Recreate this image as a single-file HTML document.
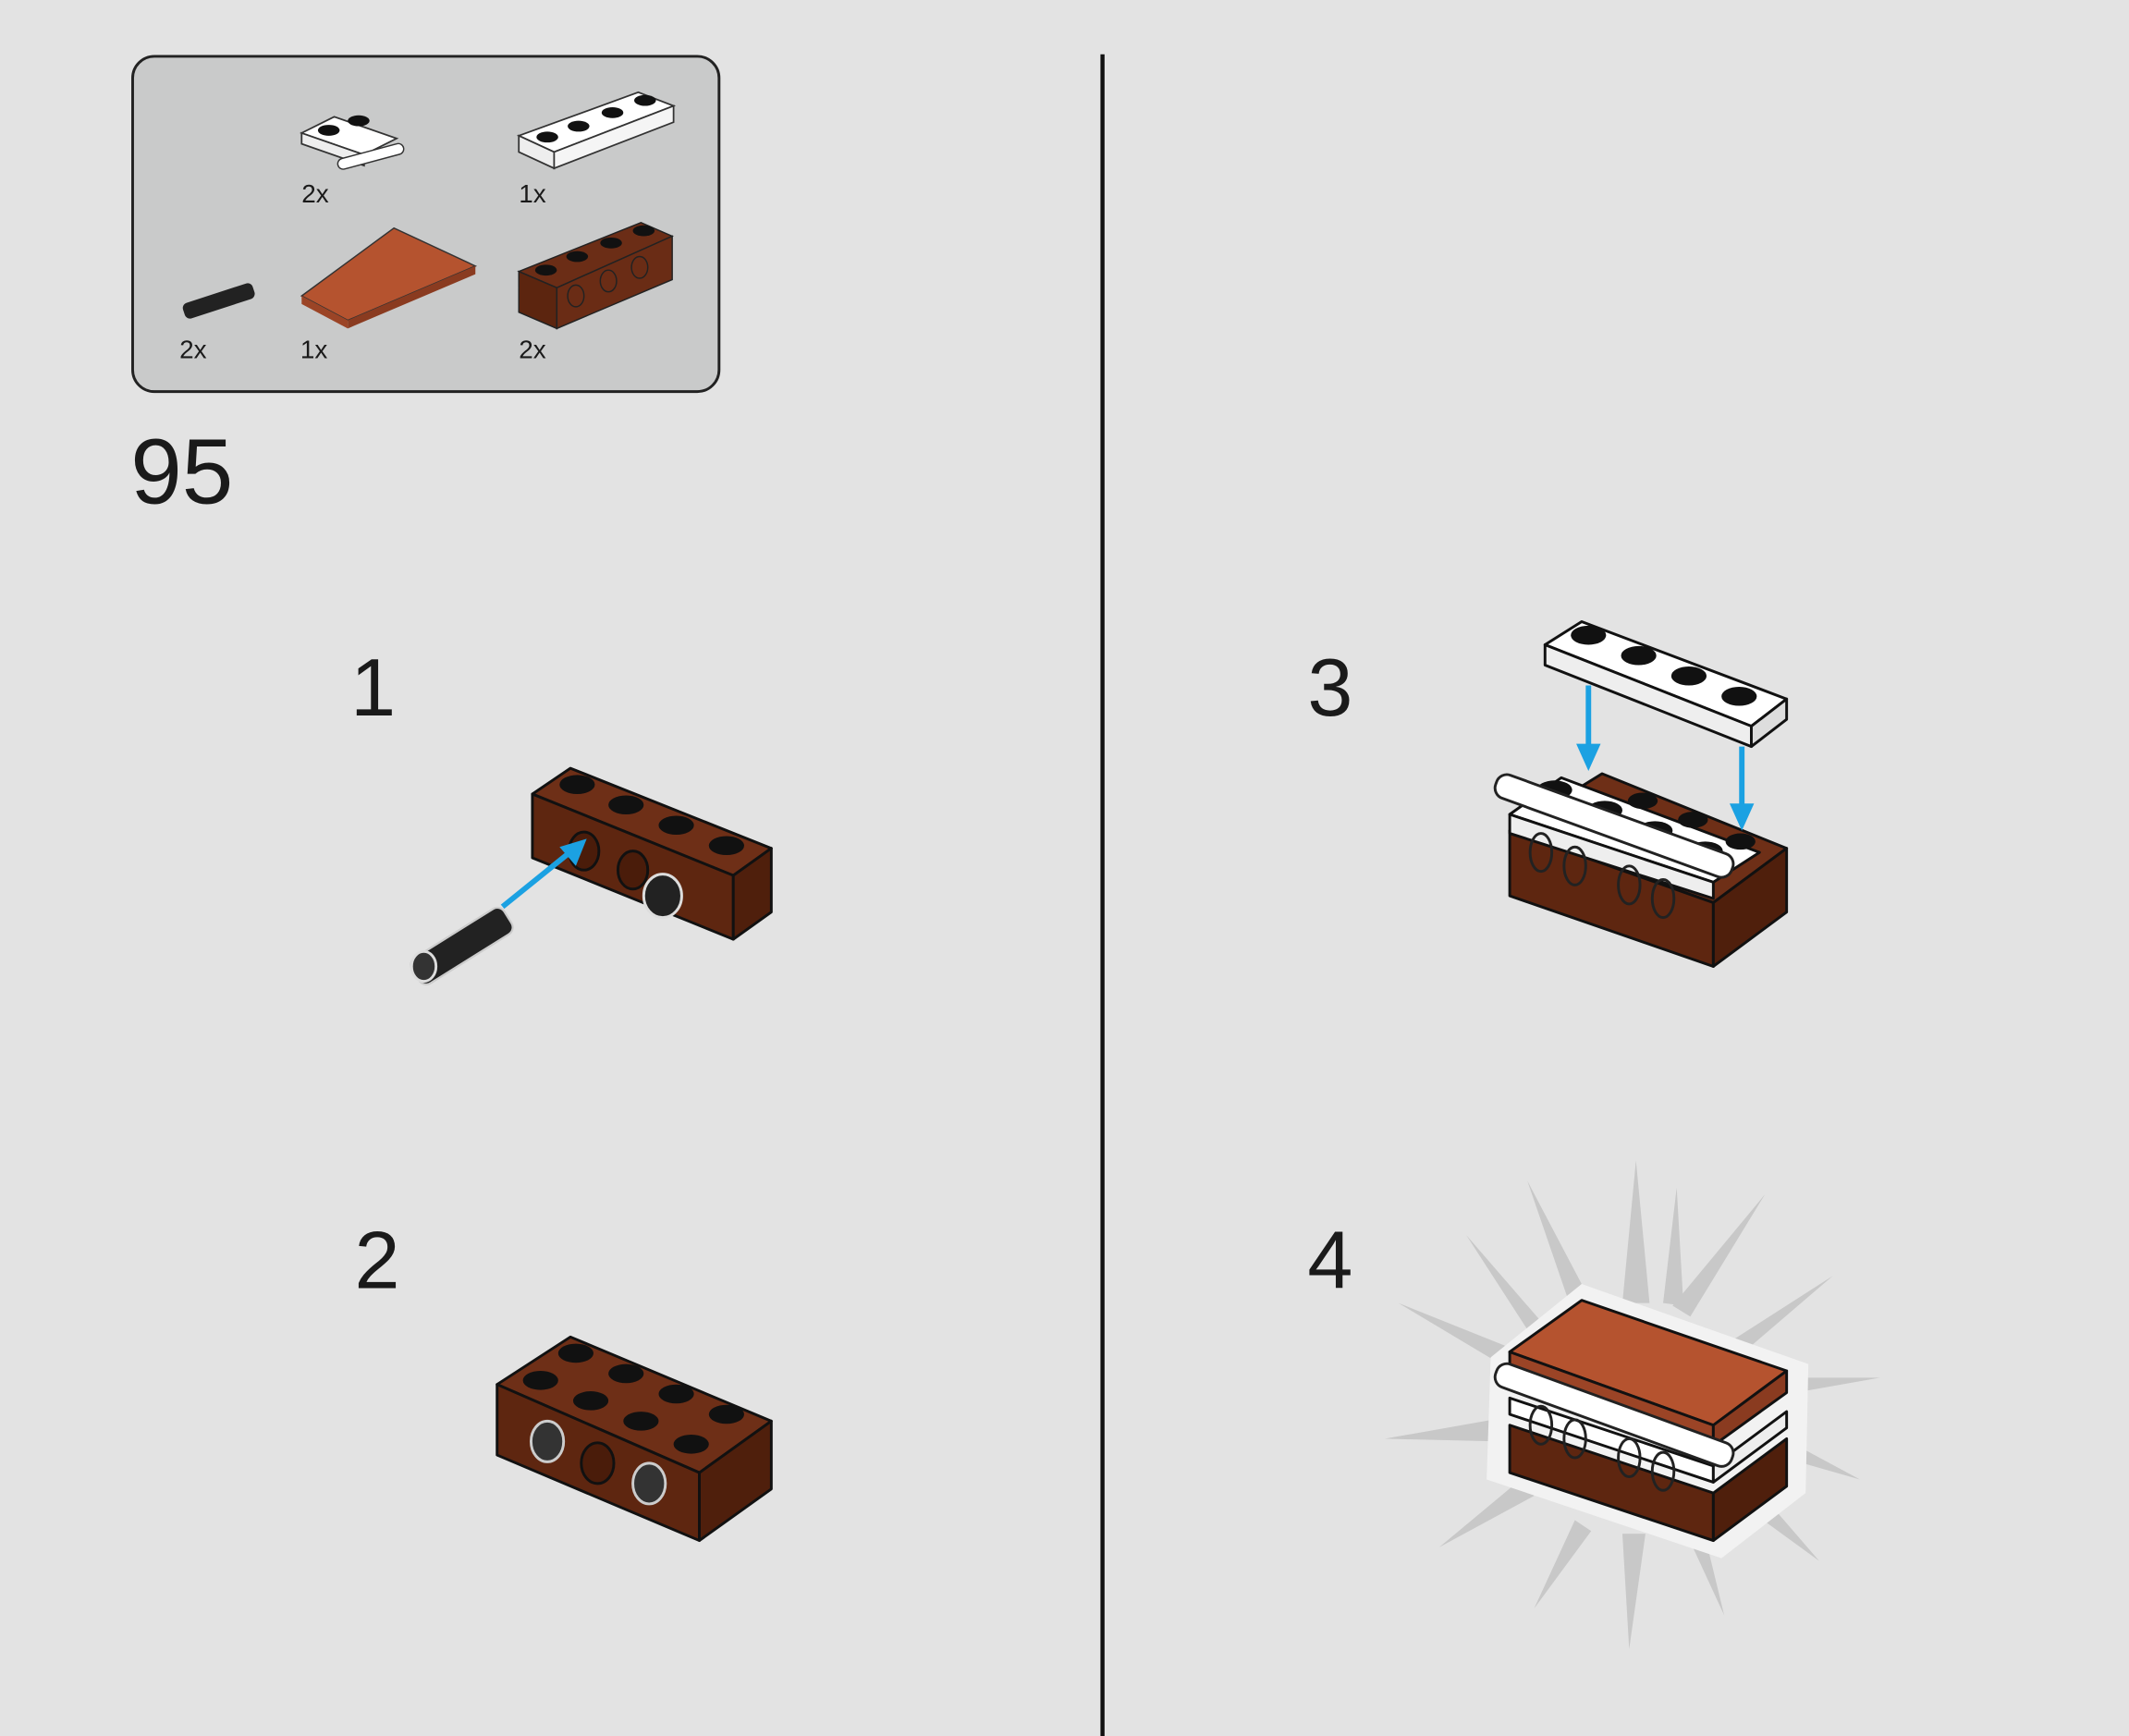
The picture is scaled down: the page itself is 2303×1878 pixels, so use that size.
<!DOCTYPE html>
<html><head><meta charset="utf-8"><style>
html,body{margin:0;padding:0;background:#e3e3e3;}
svg{display:block;}
text{font-family:"Liberation Sans",sans-serif;fill:#1a1a1a;}
</style></head><body>
<svg width="2303" height="1878" viewBox="0 0 1568 1279" xmlns="http://www.w3.org/2000/svg">
<rect width="1568" height="1279" fill="#e3e3e3"/>
<!-- parts box -->
<rect x="97.5" y="41.5" width="432" height="247" rx="16" fill="#c9caca" stroke="#222" stroke-width="2"/>
<!-- small hinge plate -->
<polygon points="222,98 246,86 292,102 268,114" fill="#fff" stroke="#333" stroke-width="1.2"/>
<polygon points="222,98 268,114 268,122 222,106" fill="#eee" stroke="#333" stroke-width="1.2"/>
<ellipse cx="242" cy="96" rx="8" ry="4" fill="#111"/><ellipse cx="264" cy="89" rx="8" ry="4" fill="#111"/>
<rect x="248" y="112" width="50" height="8" rx="4" fill="#fff" stroke="#333" transform="rotate(-15 270 116)"/>
<text x="222" y="149" font-size="19">2x</text>
<!-- 1x4 plate -->
<polygon points="382,100 470,68 496,78 408,112" fill="#fff" stroke="#333" stroke-width="1.2"/>
<polygon points="382,100 408,112 408,124 382,112" fill="#eee" stroke="#333" stroke-width="1.2"/>
<polygon points="408,112 496,78 496,90 408,124" fill="#f5f5f5" stroke="#333" stroke-width="1.2"/>
<ellipse cx="403" cy="101" rx="8" ry="4" fill="#111"/><ellipse cx="426" cy="93" rx="8" ry="4" fill="#111"/><ellipse cx="451" cy="83" rx="8" ry="4" fill="#111"/><ellipse cx="475" cy="74" rx="8" ry="4" fill="#111"/>
<text x="382" y="149" font-size="19">1x</text>
<!-- pin -->
<rect x="134" y="216" width="54" height="12" rx="4" fill="#222" transform="rotate(-18 160 222)"/>
<text x="132" y="264" font-size="19">2x</text>
<!-- tile -->
<polygon points="222,218 290,168 350,196 256,236" fill="#b5532f" stroke="#333" stroke-width="1"/>
<polygon points="222,218 256,236 256,242 222,224" fill="#9b4426"/>
<polygon points="256,236 350,196 350,202 256,242" fill="#8a3b20"/>
<text x="221" y="264" font-size="19">1x</text>
<!-- technic brick -->
<polygon points="382,200 472,164 495,174 410,212" fill="#6b2d16" stroke="#222"/>
<polygon points="382,200 410,212 410,242 382,230" fill="#5c250f" stroke="#222"/>
<polygon points="410,212 495,174 495,206 410,242" fill="#6a2c15" stroke="#222"/>
<ellipse cx="402" cy="199" rx="8" ry="4" fill="#111"/><ellipse cx="425" cy="189" rx="8" ry="4" fill="#111"/><ellipse cx="450" cy="179" rx="8" ry="4" fill="#111"/><ellipse cx="474" cy="170" rx="8" ry="4" fill="#111"/>
<ellipse cx="424" cy="218" rx="6" ry="8" fill="none" stroke="#222"/><ellipse cx="448" cy="207" rx="6" ry="8" fill="none" stroke="#222"/><ellipse cx="471" cy="197" rx="6" ry="8" fill="none" stroke="#222"/>
<text x="382" y="264" font-size="19">2x</text>
<!-- step number -->
<text x="96" y="371" font-size="68">95</text>
<line x1="812" y1="40" x2="812" y2="1279" stroke="#111" stroke-width="3"/>
<text x="258" y="527" font-size="60">1</text>
<text x="261" y="949" font-size="60">2</text>
<text x="963" y="527" font-size="60">3</text>
<text x="963" y="949" font-size="60">4</text>
<!-- step1 brick -->
<g stroke="#111" stroke-width="2" stroke-linejoin="round">
<polygon points="392,585 420,566 568,625 540,645" fill="#6e2f17"/>
<polygon points="392,585 540,645 540,692 392,632" fill="#5e2610"/>
<polygon points="540,645 568,625 568,672 540,692" fill="#4f1f0c"/>
</g>
<g fill="#111"><ellipse cx="425" cy="578" rx="13" ry="7"/><ellipse cx="461" cy="593" rx="13" ry="7"/><ellipse cx="498" cy="608" rx="13" ry="7"/><ellipse cx="535" cy="623" rx="13" ry="7"/></g>
<ellipse cx="430" cy="627" rx="11" ry="14" fill="#4a1c0a" stroke="#111" stroke-width="2"/>
<ellipse cx="466" cy="641" rx="11" ry="14" fill="#4a1c0a" stroke="#111" stroke-width="2"/>
<ellipse cx="488" cy="660" rx="14" ry="16" fill="#222" stroke="#ddd" stroke-width="2"/>
<rect x="300" y="686" width="80" height="22" rx="6" fill="#222" stroke="#ccc" stroke-width="1.5" transform="rotate(-32 340 697)"/>
<ellipse cx="312" cy="712" rx="9" ry="11" fill="#333" stroke="#ddd" stroke-width="2"/>
<line x1="370" y1="668" x2="422" y2="626" stroke="#1ba1e2" stroke-width="4"/>
<polygon points="432,618 412,624 424,638" fill="#1ba1e2"/>
<!-- step2 brick -->
<g stroke="#111" stroke-width="2" stroke-linejoin="round">
<polygon points="366,1020 420,985 568,1047 515,1085" fill="#6e2f17"/>
<polygon points="366,1020 515,1085 515,1135 366,1072" fill="#5e2610"/>
<polygon points="515,1085 568,1047 568,1097 515,1135" fill="#4f1f0c"/>
</g>
<g fill="#111"><ellipse cx="424" cy="997" rx="13" ry="7"/><ellipse cx="461" cy="1012" rx="13" ry="7"/><ellipse cx="498" cy="1027" rx="13" ry="7"/><ellipse cx="535" cy="1042" rx="13" ry="7"/>
<ellipse cx="398" cy="1017" rx="13" ry="7"/><ellipse cx="435" cy="1032" rx="13" ry="7"/><ellipse cx="472" cy="1047" rx="13" ry="7"/><ellipse cx="509" cy="1064" rx="13" ry="7"/></g>
<ellipse cx="403" cy="1062" rx="12" ry="15" fill="#333" stroke="#ccc" stroke-width="2"/>
<ellipse cx="440" cy="1078" rx="12" ry="15" fill="#4a1c0a" stroke="#111" stroke-width="2"/>
<ellipse cx="478" cy="1093" rx="12" ry="15" fill="#333" stroke="#ccc" stroke-width="2"/>
<!-- step3 -->
<g stroke="#111" stroke-width="2" stroke-linejoin="round">
<polygon points="1112,612 1180,570 1316,625 1262,665" fill="#6e2f17"/>
<polygon points="1112,612 1262,665 1262,712 1112,660" fill="#5e2610"/>
<polygon points="1262,665 1316,625 1316,672 1262,712" fill="#4f1f0c"/>
<polygon points="1112,600 1150,573 1296,628 1262,650" fill="#fff"/>
<polygon points="1112,600 1262,650 1262,662 1112,614" fill="#eee"/>
<polygon points="1138,475 1165,458 1316,515 1290,535" fill="#fff"/>
<polygon points="1138,475 1290,535 1290,550 1138,490" fill="#eee"/>
<polygon points="1290,535 1316,515 1316,530 1290,550" fill="#ddd"/>
</g>
<g fill="#111"><ellipse cx="1170" cy="468" rx="13" ry="7"/><ellipse cx="1207" cy="483" rx="13" ry="7"/><ellipse cx="1244" cy="498" rx="13" ry="7"/><ellipse cx="1281" cy="513" rx="13" ry="7"/>
<ellipse cx="1145" cy="582" rx="13" ry="7"/><ellipse cx="1182" cy="597" rx="13" ry="7"/><ellipse cx="1219" cy="612" rx="13" ry="7"/><ellipse cx="1256" cy="627" rx="13" ry="7"/>
<ellipse cx="1210" cy="590" rx="11" ry="6"/><ellipse cx="1247" cy="604" rx="11" ry="6"/><ellipse cx="1282" cy="620" rx="11" ry="6"/></g>
<rect x="1096" y="600" width="185" height="18" rx="8" fill="#fff" stroke="#222" stroke-width="2" transform="rotate(20 1190 610)"/>
<g fill="none" stroke="#222" stroke-width="2"><ellipse cx="1135" cy="628" rx="8" ry="14"/><ellipse cx="1160" cy="638" rx="8" ry="14"/><ellipse cx="1200" cy="652" rx="8" ry="14"/><ellipse cx="1225" cy="662" rx="8" ry="14"/></g>
<line x1="1170" y1="505" x2="1170" y2="552" stroke="#1ba1e2" stroke-width="4"/>
<polygon points="1161,548 1179,548 1170,568" fill="#1ba1e2"/>
<line x1="1283" y1="550" x2="1283" y2="596" stroke="#1ba1e2" stroke-width="4"/>
<polygon points="1274,592 1292,592 1283,612" fill="#1ba1e2"/>
<!-- step4 burst -->
<g fill="#c8c8c8">
<polygon points="1205,855 1215,960 1195,960"/>
<polygon points="1125,870 1175,965 1160,972"/>
<polygon points="1300,880 1245,970 1232,962"/>
<polygon points="1030,960 1130,1000 1122,1015"/>
<polygon points="1385,1015 1300,1030 1300,1015"/>
<polygon points="1020,1060 1105,1045 1105,1062"/>
<polygon points="1370,1090 1300,1070 1305,1055"/>
<polygon points="1060,1140 1120,1090 1130,1102"/>
<polygon points="1340,1150 1285,1110 1295,1098"/>
<polygon points="1200,1215 1195,1130 1212,1130"/>
<polygon points="1130,1185 1160,1120 1172,1128"/>
<polygon points="1270,1190 1240,1125 1253,1120"/>
<polygon points="1235,875 1225,960 1240,962"/>
<polygon points="1080,910 1145,985 1135,995"/>
<polygon points="1350,940 1280,1000 1272,990"/>
</g>
<polygon points="1098,1000 1165,946 1332,1005 1330,1100 1268,1148 1095,1090" fill="#f2f2f2"/>
<g stroke="#111" stroke-width="2" stroke-linejoin="round">
<polygon points="1112,1050 1262,1100 1262,1135 1112,1085" fill="#5e2610"/>
<polygon points="1262,1100 1316,1060 1316,1095 1262,1135" fill="#4f1f0c"/>
<polygon points="1112,1030 1262,1080 1262,1092 1112,1042" fill="#fff"/>
<polygon points="1262,1080 1316,1040 1316,1052 1262,1092" fill="#eee"/>
<polygon points="1112,996 1165,958 1316,1010 1262,1050" fill="#b5532f"/>
<polygon points="1112,996 1262,1050 1262,1065 1112,1012" fill="#9b4426"/>
<polygon points="1262,1050 1316,1010 1316,1026 1262,1065" fill="#8a3b20"/>
</g>
<rect x="1096" y="1034" width="185" height="18" rx="8" fill="#fff" stroke="#222" stroke-width="2" transform="rotate(20 1190 1044)"/>
<g fill="none" stroke="#222" stroke-width="2"><ellipse cx="1135" cy="1050" rx="8" ry="14"/><ellipse cx="1160" cy="1060" rx="8" ry="14"/><ellipse cx="1200" cy="1074" rx="8" ry="14"/><ellipse cx="1225" cy="1084" rx="8" ry="14"/></g>
</svg>
</body></html>
